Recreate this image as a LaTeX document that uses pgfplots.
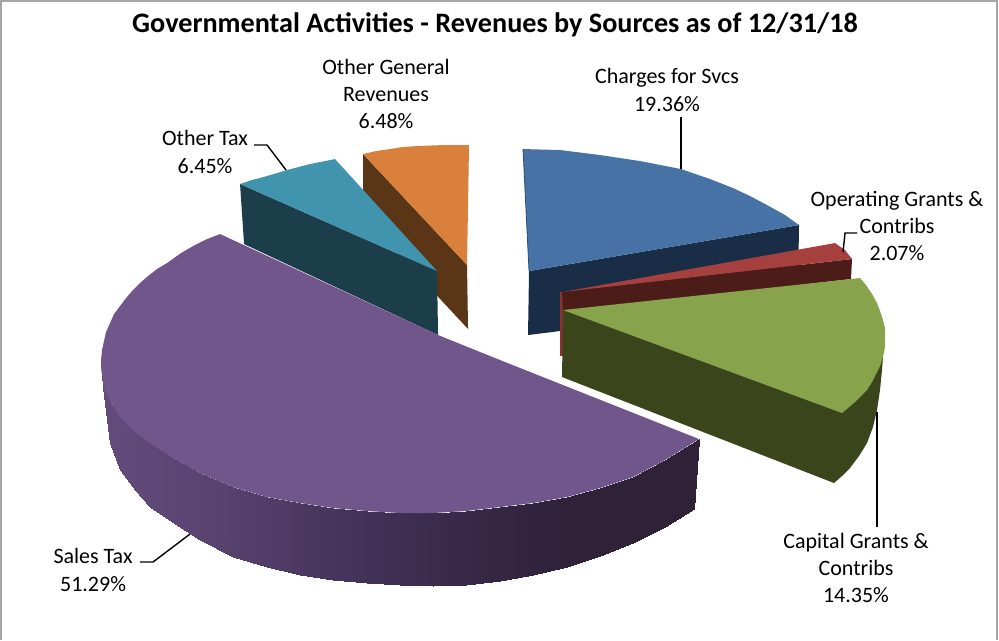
\documentclass[border=0pt]{standalone}
\usepackage{fontspec}
\setmainfont{Carlito}
\usepackage{pgfplots}
\pgfplotsset{compat=1.18}
\definecolor{orangeT}{HTML}{D8803C}
\definecolor{orangeS}{HTML}{5A3516}
\definecolor{tealT}{HTML}{4094AE}
\definecolor{tealS}{HTML}{1C3D4A}
\definecolor{blueT}{HTML}{4672A6}
\definecolor{blueS}{HTML}{1A2D47}
\definecolor{blueE}{HTML}{2B4A70}
\definecolor{purpleT}{HTML}{71568C}
\definecolor{redT}{HTML}{A5403E}
\definecolor{redS}{HTML}{4B1C18}
\definecolor{redE}{HTML}{8A3230}
\definecolor{greenT}{HTML}{87A44C}
\definecolor{greenS}{HTML}{3A451B}
\definecolor{frameC}{HTML}{A6A6A6}
\begin{document}
\begin{tikzpicture}
\begin{axis}[
  scale only axis, width=999pt, height=640pt,
  xmin=0, xmax=999, ymin=0, ymax=640, y dir=reverse,
  hide axis, clip=false,
  colormap={purp}{rgb255=(100,76,124) rgb255=(88,66,110) rgb255=(70,52,92) rgb255=(56,41,72) rgb255=(46,33,56) rgb255=(46,33,56)},
  point meta min=100, point meta max=700,
  every node/.style={text=black},
]
\path (axis cs:0,0) -- (axis cs:999,640);
% frame
\addplot[frameC, line width=1.5pt] coordinates {(0.7,640) (0.7,0.7) (997,0.7) (997,640)};
% Other General Revenues 6.48
\addplot[fill=orangeS, draw=none] coordinates {(363,154) (467,265) (468,329) (363,216)} -- cycle;
\addplot[fill=orangeT, draw=none] coordinates {(363,154) (376,151) (390,149) (403,147) (417,146) (430,145.5) (443,145) (469,145) (467,265)} -- cycle;
% Other Tax 6.45
\addplot[fill=tealS, draw=none] coordinates {(240,184) (437,271) (438,335) (244,244)} -- cycle;
\addplot[fill=tealT, draw=none] coordinates {(240,184) (252,180) (267,176) (287,170) (310,164) (335,159) (437,271)} -- cycle;
% Charges for Svcs 19.36
\addplot[fill=blueS, draw=none] coordinates {(529,271) (799,225) (798,290) (560,331) (528,335)} -- cycle;
\addplot[fill=blueT, draw=none] coordinates {(523,149) (560,150) (600,155) (640,161) (681,169) (710,179) (733,188) (750,196) (767,205) (785,215) (799,225) (529,271)} -- cycle;
\addplot[blueE, line width=0.8pt] coordinates {(523,149) (529,271)};
% Sales Tax 51.29 side bands
\addplot[patch, patch type=rectangle, shader=interp, point meta=x] coordinates {
(101,360) (103,387) (107,420) (101,360)
(103,387) (110,402) (110,443) (107,420)
(110,402) (120,417) (120,470) (110,443)
(120,417) (135,431) (135,490) (120,470)
(135,431) (150,443) (150,507) (135,490)
(150,443) (175,459) (175,524) (150,507)
(175,459) (200,473) (200,540) (175,524)
(200,473) (233,487) (233,557) (200,540)
(233,487) (267,497) (267,567) (233,557)
(267,497) (300,503) (300,575) (267,567)
(300,503) (333,508) (333,580) (300,575)
(333,508) (367,511) (367,583) (333,580)
(367,511) (400,513) (400,585) (367,583)
(400,513) (433,513) (433,586) (400,585)
(433,513) (466,511) (466,585) (433,586)
(466,511) (500,507) (500,581) (466,585)
(500,507) (533,503) (533,575) (500,581)
(533,503) (567,497) (567,567) (533,575)
(567,497) (600,488) (600,556) (567,567)
(600,488) (633,477) (633,543) (600,556)
(633,477) (665,460) (665,527) (633,543)
(665,460) (699,439) (694,509) (665,527)
};
\addplot[fill=purpleT, draw=none] coordinates {
(220,234) (207,239) (195,245) (181,253) (167,263) (157,269) (148,276) (140,283) (133,290) (126,298) (120,306) (114,314) (110,323) (106,332) (104,341) (102,350) (101,360) (101,368) (102,375) (103,383) (105,390) (108,397) (112,404) (116,411) (120,417) (134,431) (150,443) (175,459) (200,473) (233,487) (267,497) (300,503) (333,508) (367,511) (400,513) (433,513) (466,511) (500,507) (533,503) (567,497) (600,488) (633,477) (665,460) (699,439) (500,360) (438,335)} -- cycle;
% Operating Grants 2.07
\addplot[fill=redE, draw=none] coordinates {(560,292) (563,292) (563,356) (560,356)} -- cycle;
\addplot[fill=redS, draw=none] coordinates {(562,292) (852,259) (851,279) (563,312)} -- cycle;
\addplot[fill=redT, draw=none] coordinates {(562,292) (835,243) (845,250) (852,259)} -- cycle;
% Capital Grants 14.35
\addplot[fill=greenS, draw=none] coordinates {(563,310) (883,357) (882,370) (880,390) (877,410) (873,427) (867,443) (859,456) (850,468) (842,476) (834,483) (562,377)} -- cycle;
\addplot[fill=greenT, draw=none] coordinates {(563,310) (860,278) (866,285) (872,294) (877,303) (880,311) (883,320) (885,328) (885,337) (885,347) (883,357) (880,366) (876,374) (872,382) (867,390) (861,396) (855,402) (848,408) (842,413)} -- cycle;
% leaders
\addplot[black, line width=1.4pt] coordinates {(681,117) (681,169)};
\addplot[black, line width=1.4pt] coordinates {(857,233) (845,233) (843,252)};
\addplot[black, line width=1.4pt] coordinates {(877,412) (877,527)};
\addplot[black, line width=1.4pt] coordinates {(140,562) (153,562) (190,534)};
\addplot[black, line width=1.4pt] coordinates {(254,145) (267,145) (286,170)};
% text
\node[font=\fontsize{28.2}{30}\selectfont\bfseries] at (axis cs:495,24.5) {Governmental Activities - Revenues by Sources as of 12/31/18};
\node[align=center, font=\fontsize{22}{27.4}\selectfont] at (axis cs:386,94) {Other General\\Revenues\\6.48\%};
\node[align=center, font=\fontsize{22}{27.4}\selectfont] at (axis cs:667,90) {Charges for Svcs\\19.36\%};
\node[align=center, font=\fontsize{22}{27.4}\selectfont] at (axis cs:897,226) {Operating Grants \&\\Contribs\\2.07\%};
\node[align=center, font=\fontsize{22}{27.4}\selectfont] at (axis cs:205,152) {Other Tax\\6.45\%};
\node[align=center, font=\fontsize{22}{27.4}\selectfont] at (axis cs:93,570) {Sales Tax\\51.29\%};
\node[align=center, font=\fontsize{22}{27.4}\selectfont] at (axis cs:856,568) {Capital Grants \&\\Contribs\\14.35\%};
\end{axis}
\end{tikzpicture}
\end{document}
